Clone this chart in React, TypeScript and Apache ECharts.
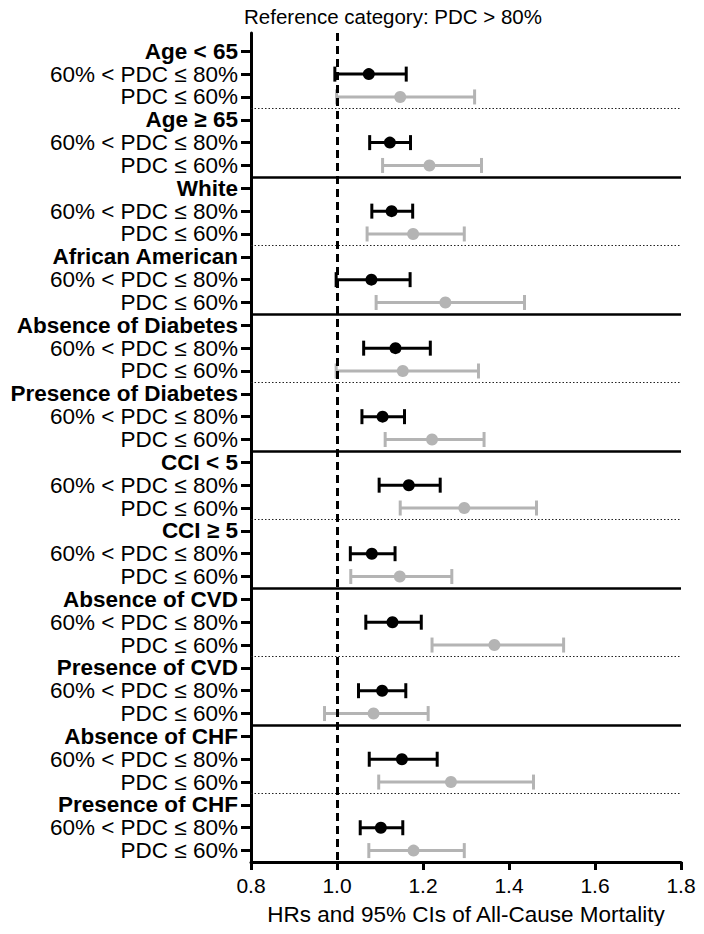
import React, { useEffect, useRef } from "react";
import * as echarts from "echarts";

const groups = [
  "Age < 65",
  "Age ≥ 65",
  "White",
  "African American",
  "Absence of Diabetes",
  "Presence of Diabetes",
  "CCI < 5",
  "CCI ≥ 5",
  "Absence of CVD",
  "Presence of CVD",
  "Absence of CHF",
  "Presence of CHF",
];
const subLabels = ["60% < PDC ≤ 80%", "PDC ≤ 60%"];

// 60% < PDC ≤ 80%
const midHR = [1.074, 1.123, 1.127, 1.080, 1.136, 1.106, 1.167, 1.081, 1.129, 1.105, 1.151, 1.102];
const midLo = [0.995, 1.076, 1.081, 0.998, 1.062, 1.058, 1.098, 1.031, 1.067, 1.050, 1.075, 1.054];
const midHi = [1.161, 1.171, 1.176, 1.170, 1.217, 1.157, 1.240, 1.135, 1.196, 1.160, 1.233, 1.153];
// PDC ≤ 60%
const lowHR = [1.147, 1.215, 1.177, 1.252, 1.153, 1.221, 1.296, 1.146, 1.366, 1.085, 1.265, 1.178];
const lowLo = [0.999, 1.106, 1.070, 1.091, 0.998, 1.112, 1.147, 1.032, 1.221, 0.971, 1.097, 1.074];
const lowHi = [1.320, 1.336, 1.296, 1.436, 1.329, 1.342, 1.464, 1.267, 1.527, 1.212, 1.457, 1.296];

const xTicks = [0.8, 1.0, 1.2, 1.4, 1.6, 1.8];
const titleText = "Reference category: PDC > 80%";
const xName = "HRs and 95% CIs of All-Cause Mortality";

const BLACK = "#000000";
const GRAY = "#b4b4b4";
const FONT = "Liberation Sans, Arial, Helvetica, sans-serif";

export default function App() {
  const ref = useRef<HTMLDivElement>(null);

  useEffect(() => {
    if (!ref.current) return;
    const chart = echarts.init(ref.current, null, { renderer: "svg" });

    const rowLabels: { text: string; bold: boolean }[] = [];
    groups.forEach((g) => {
      rowLabels.push({ text: g, bold: true });
      rowLabels.push({ text: subLabels[0], bold: false });
      rowLabels.push({ text: subLabels[1], bold: false });
    });
    const rowValues = rowLabels.map((_, i) => i);

    const midBars = groups.map((_, g) => [midLo[g], midHi[g], 3 * g + 1]);
    const lowBars = groups.map((_, g) => [lowLo[g], lowHi[g], 3 * g + 2]);
    const midPts = groups.map((_, g) => [midHR[g], 3 * g + 1]);
    const lowPts = groups.map((_, g) => [lowHR[g], 3 * g + 2]);

    const sepLines: any[] = [];
    for (let g = 0; g < groups.length - 1; g++) {
      const y = 3 * g + 2.5;
      if (g % 2 === 0) {
        sepLines.push({ yAxis: y, lineStyle: { color: "#222", width: 1.2, type: [1.5, 2] } });
      } else {
        sepLines.push({ yAxis: y, lineStyle: { color: BLACK, width: 2.5, type: "solid" } });
      }
    }

    const makeRender = (color: string) => (params: any, api: any) => {
      const lo = api.value(0);
      const hi = api.value(1);
      const row = api.value(2);
      const p1 = api.coord([lo, row]);
      const p2 = api.coord([hi, row]);
      const h = 7.5;
      const style = { stroke: color, lineWidth: 3, fill: "none" };
      return {
        type: "group",
        children: [
          { type: "line", shape: { x1: p1[0], y1: p1[1], x2: p2[0], y2: p2[1] }, style },
          { type: "line", shape: { x1: p1[0], y1: p1[1] - h, x2: p1[0], y2: p1[1] + h }, style },
          { type: "line", shape: { x1: p2[0], y1: p2[1] - h, x2: p2[0], y2: p2[1] + h }, style },
        ],
      };
    };

    chart.setOption({
      animation: false,
      backgroundColor: "#ffffff",
      textStyle: { fontFamily: FONT },
      grid: { left: 251, right: 23, top: 33, bottom: 72, containLabel: false },
      graphic: [
        {
          type: "text",
          x: 393,
          y: 16,
          style: {
            text: titleText,
            fontSize: 20.5,
            fontFamily: FONT,
            fill: BLACK,
            textAlign: "center",
            textVerticalAlign: "middle",
          },
        },
      ],
      xAxis: {
        type: "value",
        min: 0.8,
        max: 1.8,
        interval: 0.2,
        name: xName,
        nameLocation: "middle",
        nameGap: 41,
        nameTextStyle: { fontSize: 22.5, color: BLACK, fontFamily: FONT },
        axisLine: { show: true, onZero: false, lineStyle: { color: BLACK, width: 3 } },
        axisTick: { show: true, length: 8, lineStyle: { color: BLACK, width: 3 } },
        axisLabel: {
          fontSize: 21,
          color: BLACK,
          margin: 13,
          fontFamily: FONT,
          formatter: (v: number) => v.toFixed(1),
        },
        splitLine: { show: false },
      },
      yAxis: {
        type: "value",
        inverse: true,
        min: -0.8,
        max: 35.5,
        axisLine: { show: true, onZero: false, lineStyle: { color: BLACK, width: 3 } },
        axisTick: {
          show: true,
          length: 10,
          customValues: rowValues,
          lineStyle: { color: BLACK, width: 3 },
        },
        axisLabel: {
          customValues: rowValues,
          margin: 13,
          fontSize: 22.5,
          color: BLACK,
          fontFamily: FONT,
          formatter: (v: number) => {
            const r = rowLabels[Math.round(v)];
            if (!r) return "";
            return r.bold ? "{b|" + r.text + "}" : "{n|" + r.text + "}";
          },
          rich: {
            b: { fontSize: 22.5, fontWeight: "bold", color: BLACK, fontFamily: FONT },
            n: { fontSize: 22.5, color: BLACK, fontFamily: FONT },
          },
        },
        splitLine: { show: false },
      },
      series: [
        {
          type: "custom",
          name: "sep",
          data: [],
          renderItem: () => null,
          markLine: {
            silent: true,
            symbol: "none",
            label: { show: false },
            data: [
              ...sepLines,
              { xAxis: 1.0, lineStyle: { color: BLACK, width: 3, type: [8, 5] } },
            ],
          },
          z: 1,
        },
        {
          type: "custom",
          name: "midBars",
          data: midBars,
          renderItem: makeRender(BLACK),
          encode: { x: [0, 1], y: 2 },
          z: 3,
        },
        {
          type: "custom",
          name: "lowBars",
          data: lowBars,
          renderItem: makeRender(GRAY),
          encode: { x: [0, 1], y: 2 },
          z: 3,
        },
        {
          type: "scatter",
          data: midPts,
          symbol: "circle",
          symbolSize: 12,
          itemStyle: { color: BLACK, opacity: 1 },
          z: 4,
        },
        {
          type: "scatter",
          data: lowPts,
          symbol: "circle",
          symbolSize: 12,
          itemStyle: { color: GRAY, opacity: 1 },
          z: 4,
        },
      ],
    });

    return () => chart.dispose();
  }, []);

  return <div ref={ref} style={{ width: 704, height: 934, margin: -8 }} />;
}
